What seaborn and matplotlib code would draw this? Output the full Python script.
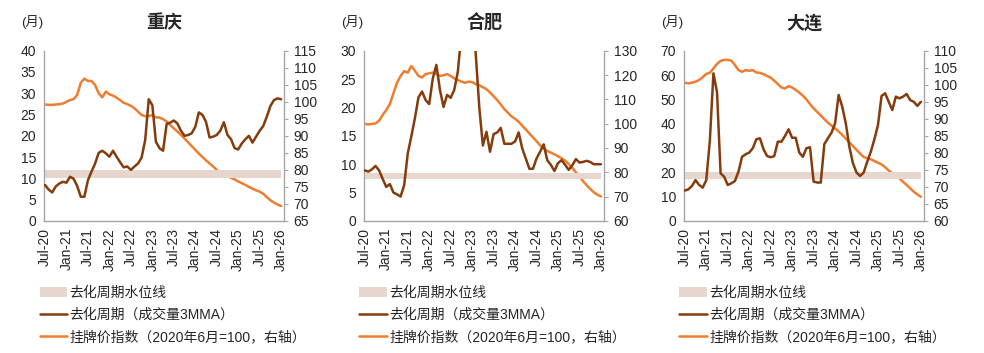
import numpy as np
import pandas as pd
import seaborn as sns
import matplotlib
matplotlib.use('Agg')
import matplotlib.pyplot as plt
from matplotlib.patches import Patch
from matplotlib.lines import Line2D

sns.set_style('white')
plt.rcParams['font.family'] = ['Liberation Sans', 'Noto Sans CJK SC', 'DejaVu Sans']
plt.rcParams['axes.unicode_minus'] = False

# 月度数据：2020年7月 - 2026年1月，共67个点
tick_labels = ['Jul-20', 'Jan-21', 'Jul-21', 'Jan-22', 'Jul-22', 'Jan-23',
               'Jul-23', 'Jan-24', 'Jul-24', 'Jan-25', 'Jul-25', 'Jan-26']
cities = ['重庆', '合肥', '大连']

# 重庆
cq_cycle = [8.45, 7.4, 6.7, 8.1, 8.8, 9.2, 9.0, 10.4, 9.9, 8.2,
            5.7, 5.7, 9.6, 11.6, 13.5, 16.0, 16.5, 15.9, 15.1, 16.5,
            15.1, 13.8, 12.6, 12.8, 12.0, 12.8, 13.5, 14.9, 19.0, 28.6,
            27.2, 18.6, 17.1, 16.5, 22.8, 23.1, 23.6, 22.9, 21.2, 20.0,
            20.2, 20.6, 22.1, 25.5, 24.9, 23.3, 19.6, 19.8, 20.2, 21.2,
            23.2, 20.2, 19.2, 17.1, 16.8, 18.2, 19.2, 20.0, 18.4, 19.8,
            21.2, 22.3, 24.5, 27.0, 28.4, 28.8, 28.6]
cq_price = [99.2, 99.1, 99.1, 99.2, 99.3, 99.5, 100.0, 100.5, 100.8, 102.0,
            105.6, 106.8, 106.1, 106.1, 104.9, 102.5, 101.3, 103.0, 102.2, 101.8,
            101.2, 100.5, 99.7, 99.3, 98.8, 98.1, 97.1, 96.1, 95.8, 95.8,
            96.1, 95.4, 95.4, 94.9, 94.2, 93.2, 92.2, 91.3, 90.3, 89.2,
            88.1, 87.0, 85.9, 84.8, 83.8, 82.8, 81.9, 81.0, 80.0, 79.1,
            78.3, 78.1, 77.7, 77.2, 76.6, 76.1, 75.6, 75.0, 74.5, 74.0,
            73.6, 73.0, 72.0, 71.1, 70.4, 69.8, 69.4]
cq_band = [10.0, 12.0]

# 合肥
hf_cycle = [8.9, 8.7, 9.1, 9.7, 8.9, 7.4, 6.0, 6.5, 5.0, 4.7,
            4.3, 6.3, 11.9, 14.9, 18.1, 21.8, 22.8, 21.3, 20.6, 25.1,
            27.5, 23.1, 20.1, 22.2, 21.7, 23.1, 26.3, 33.0, 40.0, 42.0,
            38.0, 29.5, 20.0, 13.3, 15.7, 12.2, 15.3, 15.6, 16.4, 13.6,
            13.6, 13.6, 14.0, 15.6, 12.8, 11.0, 9.2, 9.2, 11.0, 12.2,
            13.5, 10.7, 9.9, 8.8, 10.2, 10.7, 9.9, 9.0, 9.8, 10.9,
            10.3, 10.4, 10.6, 10.4, 10.0, 10.0, 10.0]
hf_price = [99.9, 99.7, 99.9, 100.1, 101.2, 103.6, 105.6, 108.1, 112.5, 116.8,
            119.6, 121.6, 121.0, 123.7, 121.8, 119.6, 119.0, 120.4, 120.7, 121.0,
            120.4, 119.6, 119.9, 120.4, 119.6, 118.6, 117.9, 117.3, 116.8, 117.3,
            117.1, 116.3, 115.8, 115.0, 114.2, 112.8, 111.3, 109.7, 107.9, 106.0,
            104.5, 103.0, 102.0, 100.8, 99.2, 97.6, 96.0, 94.4, 92.8, 91.1,
            89.8, 88.8, 88.1, 87.4, 86.6, 85.8, 84.8, 83.4, 81.8, 80.0,
            78.2, 76.4, 74.7, 73.2, 71.8, 70.8, 70.1]
hf_band = [7.4, 8.4]

# 大连
dl_cycle = [12.5, 13.0, 14.4, 16.8, 14.8, 13.7, 16.8, 33.0, 60.7, 53.0,
            19.6, 18.2, 14.8, 15.5, 16.4, 20.3, 26.4, 27.4, 28.1, 29.9,
            33.6, 34.0, 29.5, 26.7, 26.2, 26.7, 32.6, 32.6, 34.9, 37.7,
            34.2, 34.2, 28.1, 26.4, 29.9, 30.3, 16.2, 15.8, 15.8, 31.6,
            34.0, 36.3, 40.1, 51.8, 47.0, 40.1, 30.5, 23.7, 19.9, 18.5,
            19.9, 24.4, 28.5, 33.6, 39.5, 51.4, 52.5, 49.0, 45.6, 51.1,
            50.4, 51.1, 52.2, 49.7, 49.0, 47.3, 49.0]
dl_price = [100.6, 100.4, 100.6, 100.9, 101.4, 102.2, 103.2, 103.5, 104.8, 106.1,
            107.0, 107.3, 107.3, 107.1, 105.8, 104.3, 103.8, 104.3, 104.1, 104.3,
            103.6, 103.5, 103.1, 102.6, 102.1, 101.2, 100.2, 99.2, 98.9, 99.6,
            99.2, 98.5, 97.7, 96.8, 95.7, 94.3, 93.1, 92.0, 91.0, 89.9,
            88.9, 88.0, 87.2, 86.3, 85.3, 84.2, 83.1, 82.0, 80.9, 79.8,
            78.8, 78.4, 78.1, 77.6, 77.1, 76.6, 75.8, 74.8, 74.0, 73.3,
            72.5, 71.5, 70.6, 69.6, 68.6, 67.8, 67.1]
dl_band = [17.1, 20.0]

cycles = [cq_cycle, hf_cycle, dl_cycle]
prices = [cq_price, hf_price, dl_price]
bands = [cq_band, hf_band, dl_band]
left_lims = [(0, 40, 5), (0, 30, 5), (0, 70, 10)]
right_lims = [(65, 115, 5), (60, 130, 10), (60, 110, 5)]

c_band = '#E6D6CD'
c_brown = '#843C0C'
c_orange = '#ED7D31'
c_spine = '#A6A6A6'
fs = 10

fig = plt.figure(figsize=(9.84, 3.53), dpi=100)
lefts = [0.0452, 0.3702, 0.6954]

for i in range(3):
    ax = fig.add_axes([lefts[i], 0.374, 0.2434, 0.4824])
    ax2 = ax.twinx()
    df = pd.DataFrame({'m': np.arange(len(cycles[i])),
                       'cycle': cycles[i], 'price': prices[i]})

    ax.fill_between(df['m'], bands[i][0], bands[i][1], color=c_band,
                    linewidth=0, zorder=1)
    sns.lineplot(data=df, x='m', y='cycle', ax=ax, color=c_brown,
                 linewidth=1.8, zorder=3)
    sns.lineplot(data=df, x='m', y='price', ax=ax2, color=c_orange,
                 linewidth=1.8, zorder=2)

    lo, hi, st = left_lims[i]
    ax.set_ylim(lo, hi)
    ax.set_yticks(np.arange(lo, hi + 0.1, st))
    lo2, hi2, st2 = right_lims[i]
    ax2.set_ylim(lo2, hi2)
    ax2.set_yticks(np.arange(lo2, hi2 + 0.1, st2))

    ax.set_xlim(-0.15, 66.8)
    ax.set_xticks(np.arange(0, 67, 6))
    ax.set_xticklabels(tick_labels, rotation=90)
    ax.set_xlabel('')
    ax.set_ylabel('')
    ax2.set_ylabel('')

    for a in (ax, ax2):
        a.spines['top'].set_visible(False)
        for s in ('left', 'right', 'bottom'):
            a.spines[s].set_color(c_spine)
            a.spines[s].set_linewidth(1.0)
    ax.spines['right'].set_visible(False)
    ax2.spines['left'].set_visible(False)
    ax2.spines['bottom'].set_visible(False)

    ax.tick_params(axis='y', length=0, pad=6, labelsize=fs)
    ax.tick_params(axis='x', length=3, width=0.8, color=c_spine, pad=2,
                   labelsize=fs)
    ax2.tick_params(axis='y', length=3, width=0.8, color=c_spine, pad=4,
                    labelsize=fs)

    # 让左轴线条画在右轴之上
    ax.set_zorder(ax2.get_zorder() + 1)
    ax.patch.set_visible(False)

    ax.set_title(cities[i], fontsize=13, fontweight='bold', pad=16)
    ax.text(-0.005, 1.17, '(月)', transform=ax.transAxes, ha='right',
            va='center', fontsize=9.5)

    handles = [Patch(facecolor=c_band, edgecolor='none'),
               Line2D([], [], color=c_brown, linewidth=1.8),
               Line2D([], [], color=c_orange, linewidth=1.8)]
    labels = ['去化周期水位线', '去化周期（成交量3MMA）',
              '挂牌价指数（2020年6月=100，右轴）']
    ax.legend(handles, labels, loc='upper left', bbox_to_anchor=(-0.02, -0.38),
              frameon=False, fontsize=fs, handlelength=2.0, handleheight=0.8,
              handletextpad=0.15, labelspacing=0.6, borderpad=0,
              borderaxespad=0)

fig.savefig('out.png', dpi=100)
